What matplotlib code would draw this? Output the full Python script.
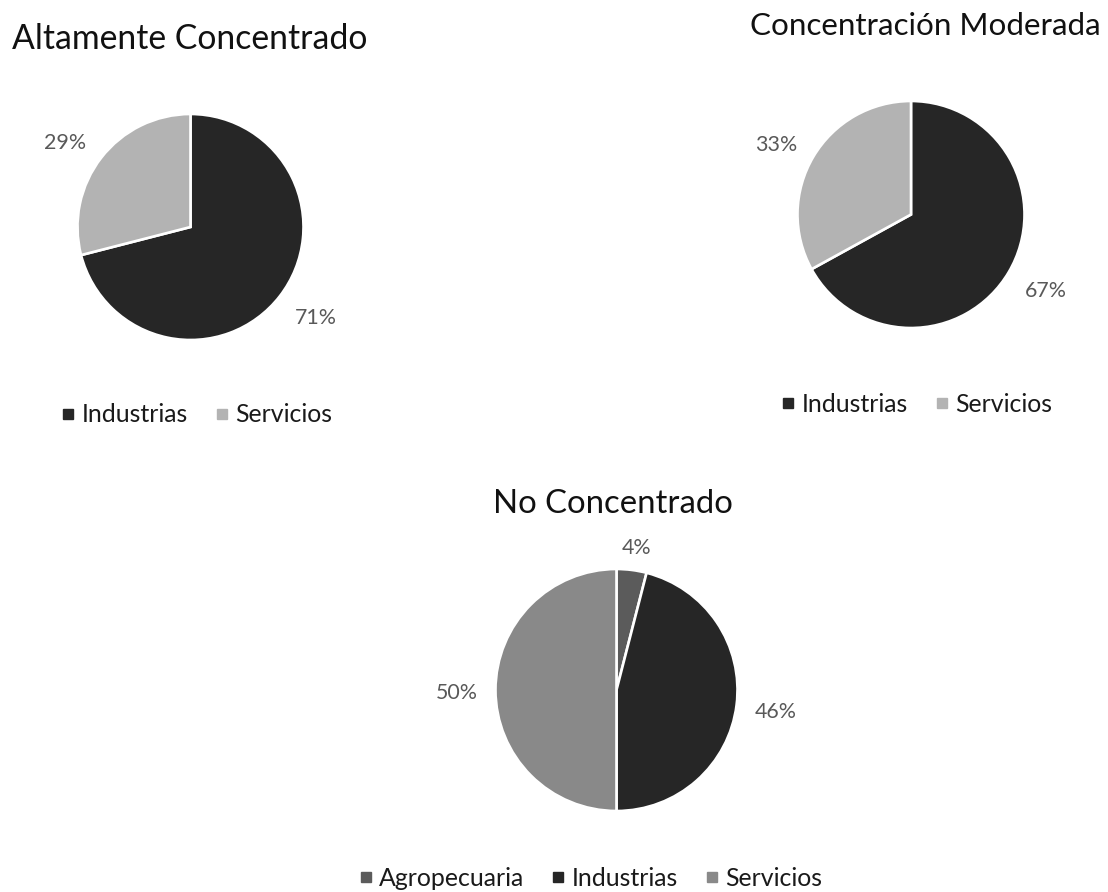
import numpy as np
import matplotlib
matplotlib.use("Agg")
import matplotlib.pyplot as plt
from matplotlib.lines import Line2D

plt.rcParams['font.family'] = ['Lato', 'DejaVu Sans']

# ---------------- data ----------------
titles = ["Altamente Concentrado", "Concentración Moderada", "No Concentrado"]
cats_alto = ["Industrias", "Servicios"]
vals_alto = [71, 29]
cats_mod = ["Industrias", "Servicios"]
vals_mod = [67, 33]
cats_no = ["Agropecuaria", "Industrias", "Servicios"]
vals_no = [4, 46, 50]

# ---------------- style ----------------
col = {"Agropecuaria": "#5b5b5b", "Industrias": "#262626", "Servicios_light": "#b3b3b3",
       "Servicios_mid": "#898989"}
W, H, DPI = 1108, 892, 100
fig = plt.figure(figsize=(W / DPI, H / DPI), dpi=DPI)
fig.patch.set_facecolor("white")
renderer = fig.canvas.get_renderer()


def text_width(s, size):
    t = fig.text(0, 0, s, fontsize=size)
    w = t.get_window_extent(renderer).width
    t.remove()
    return w


def fit_size(s, target_px, base=20):
    return base * target_px / text_width(s, base)


leg_fs = fit_size("Industrias", 105) * 1.02
lab_fs = fit_size("50%", 40) * 1.05

# layout per chart: pie center (px), radius (px), title (center x, baseline y, width), legend center
layout = [
    dict(c=(190.5, 227), r=113, title=(190, 49, 356), leg=(197, 415)),
    dict(c=(911, 214.5), r=113.5, title=(925.5, 35, 352), leg=(917, 404)),
    dict(c=(616.5, 690), r=121, title=(613, 513, 240), leg=(591, 878)),
]
series = [
    (cats_alto, vals_alto, [col["Industrias"], col["Servicios_light"]]),
    (cats_mod, vals_mod, [col["Industrias"], col["Servicios_light"]]),
    (cats_no, vals_no, [col["Agropecuaria"], col["Industrias"], col["Servicios_mid"]]),
]

for (cats, vals, colors), lay, title in zip(series, layout, titles):
    cx, cy = lay["c"]
    r = lay["r"]
    ax = fig.add_axes([(cx - r) / W, 1 - (cy + r) / H, 2 * r / W, 2 * r / H])
    wedges, _, autotexts = ax.pie(vals, colors=colors, startangle=90, counterclock=False,
                                  autopct=lambda p: f"{p:.0f}%", pctdistance=1.3,
                                  wedgeprops=dict(edgecolor="white", linewidth=1.9),
                                  textprops=dict(fontsize=lab_fs, color="#595959"))
    ax.set_xlim(-1, 1)
    ax.set_ylim(-1, 1)
    ax.set_aspect("equal")
    ax.axis("off")
    # place labels just outside the pie edge (like Excel's best fit):
    # anchor point on the mid-angle ray, label box pushed outward from it
    fs_px = lab_fs * DPI / 72
    for w, t in zip(wedges, autotexts):
        th = np.deg2rad((w.theta1 + w.theta2) / 2)
        bb = t.get_window_extent(renderer)
        hw = bb.width / 2 * 1.1
        hh = 0.45 * fs_px
        g = 16
        px = (r + g) * np.cos(th) + hw * np.clip(1.5 * np.cos(th), -1, 1)
        py = (r + g) * np.sin(th) + hh * np.clip(1.5 * np.sin(th), -1, 1) - 3.5
        t.set_position((px / r, py / r))
        t.set_ha("center")
        t.set_va("center")
    tx, ty, tw = lay["title"]
    fig.text(tx / W, 1 - ty / H, title, fontsize=fit_size(title, tw), color="#111111",
             ha="center", va="baseline")
    handles = [Line2D([], [], marker="s", linestyle="none", markersize=7,
                      markerfacecolor=c, markeredgecolor=c) for c in colors]
    lx, ly = lay["leg"]
    fig.legend(handles, cats, loc="center", bbox_to_anchor=(lx / W, 1 - ly / H),
               ncol=len(cats), frameon=False, fontsize=leg_fs, handlelength=0.5,
               handletextpad=0.3, columnspacing=1.1, borderpad=0, borderaxespad=0,
               labelcolor="#1a1a1a")

fig.savefig("out.png", dpi=DPI, facecolor="white")
